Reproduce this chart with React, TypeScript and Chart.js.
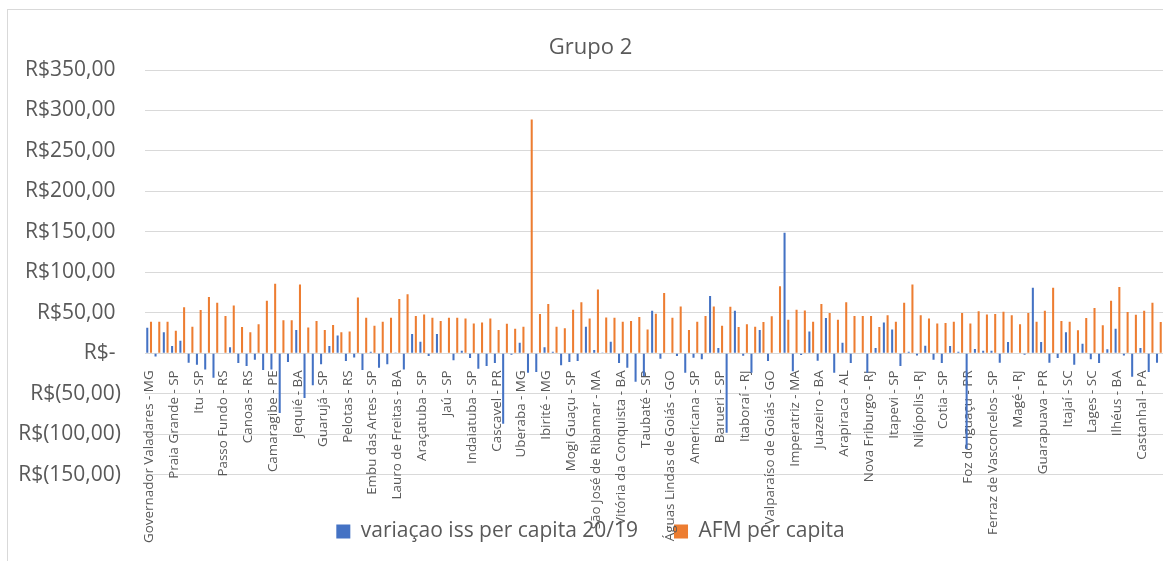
import React, { useEffect, useRef } from "react";
import { Chart, registerables } from "chart.js";

Chart.register(...registerables);

// Cities whose names are printed on the axis (every third category)
const shownCities = [
  "Governador Valadares - MG", "Praia Grande - SP", "Itu - SP", "Passo Fundo - RS", "Canoas - RS",
  "Camaragibe - PE", "Jequié - BA", "Guarujá - SP", "Pelotas - RS", "Embu das Artes - SP",
  "Lauro de Freitas - BA", "Araçatuba - SP", "Jaú - SP", "Indaiatuba - SP", "Cascavel - PR",
  "Uberaba - MG", "Ibirité - MG", "Mogi Guaçu - SP", "São José de Ribamar - MA", "Vitória da Conquista - BA",
  "Taubaté - SP", "Águas Lindas de Goiás - GO", "Americana - SP", "Barueri - SP", "Itaboraí - RJ",
  "Valparaíso de Goiás - GO", "Imperatriz - MA", "Juazeiro - BA", "Arapiraca - AL", "Nova Friburgo - RJ",
  "Itapevi - SP", "Nilópolis - RJ", "Cotia - SP", "Foz do Iguaçu - PR", "Ferraz de Vasconcelos - SP",
  "Magé - RJ", "Guarapuava - PR", "Itajaí - SC", "Lages - SC", "Ilhéus - BA", "Castanhal - PA",
];

// variaçao iss per capita 20/19
const issPerCapita = [
  31.7, -4, 26, 9, 15.6, -11.5, -14, -20, -30, 0,
  7.4, -12, -15.6, -8, -20.6, -20, -73.7, -10.7, 29, -55,
  -39.5, -13.6, 9, 22, -9.5, -5, -20.6, 2, -17.7, -13.6,
  1, -20, 24, 14.4, -3.3, 24, 0, -8.6, 3.3, -5.8,
  -19, -15.6, -12, -87, -1.6, 13, -24, -23, 7.4, 2,
  -14.8, -10.7, -9.5, 33, 4, 1, 14.4, -12, -17.7, -35,
  -28, 52.7, -6.6, 0, -3.3, -24, -5.3, -7.4, 71, 6.6,
  -98, 52.7, -3, -24, 29, -9.5, 0.8, 149, -22, -2,
  27, -9, 43.6, -24, 13, -12, 0, -24, 6.6, 38,
  29.6, -15.6, 2, -2.5, 9.5, -8, -12, 9, 2, -118,
  5.3, 3.3, 3.3, -11.5, 14, 0.8, -1.6, 81, 14, -11.5,
  -5.8, 26, -14, 12, -7.4, -12, 5, 30.5, -2.5, -29,
  6.6, -23, -11.5,
];

// AFM per capita
const afmPerCapita = [
  39, 39, 39, 28, 57, 33, 53.5, 69.5, 62.5, 46,
  59, 32.5, 26, 36, 65, 86, 41, 41, 85, 32,
  40, 29, 35, 26, 27, 69, 44, 34, 39, 44,
  67, 73, 46, 48, 44, 40, 44, 44, 43, 37,
  38, 43, 29, 36.6, 30.5, 33, 289, 48.6, 61, 33,
  31, 54, 63, 43, 79, 44.4, 44, 39, 40, 45,
  29.6, 49, 74.5, 44, 58, 29, 39, 46, 58, 34,
  57.6, 32.5, 36, 33, 38.7, 45.7, 83, 41.6, 54, 53,
  39, 61, 50, 41.6, 63, 46, 46, 46, 32.5, 47,
  39, 62.5, 85, 47, 43, 37, 37.4, 39, 50, 37,
  52, 48, 48.6, 51.4, 47, 36, 50, 39, 52.7, 81,
  40, 39, 28.4, 43.6, 56, 34.6, 65, 82, 51, 47.7,
  52.7, 62.5, 38.7,
];

const yMin = -150;
const yMax = 350;
const yStep = 50;

const seriesNames = ["variaçao iss per capita 20/19", "AFM per capita"];
const chartTitle = "Grupo 2";

const categories = issPerCapita.map((_, i) => (i % 3 === 0 ? shownCities[i / 3] : ""));

const FONT = "'Open Sans', 'Noto Sans', sans-serif";
const TEXT = "#595959";
const GRID = "#d9d9d9";

function formatBRL(v: number): string {
  if (v === 0) return "R$- ";
  const s = Math.abs(v).toFixed(2).replace(".", ",");
  return v < 0 ? `R$(${s})` : `R$${s} `;
}

export default function App() {
  const ref = useRef<HTMLCanvasElement | null>(null);

  useEffect(() => {
    if (!ref.current) return;
    const chart = new Chart(ref.current, {
      type: "bar",
      data: {
        labels: categories,
        datasets: [
          {
            label: seriesNames[0],
            data: issPerCapita,
            backgroundColor: "#4472C4",
            borderWidth: 0,
            categoryPercentage: 0.9,
            barPercentage: 0.55,
          },
          {
            label: seriesNames[1],
            data: afmPerCapita,
            backgroundColor: "#ED7D31",
            borderWidth: 0,
            categoryPercentage: 0.9,
            barPercentage: 0.55,
          },
        ],
      },
      options: {
        animation: false,
        responsive: false,
        devicePixelRatio: 1,
        layout: { padding: { left: 10, right: 10, top: 0, bottom: 10 } },
        plugins: {
          title: {
            display: true,
            text: chartTitle,
            color: TEXT,
            font: { family: FONT, size: 22, weight: "normal" },
            padding: { top: 25, bottom: 8.6 },
          },
          legend: {
            position: "bottom",
            labels: {
              boxWidth: 14,
              boxHeight: 14,
              padding: 36,
              color: TEXT,
              font: { family: FONT, size: 21 },
            },
            title: { display: true, text: "", padding: { top: 9, bottom: 0 }, font: { size: 1 } },
          },
          tooltip: { enabled: false },
        },
        scales: {
          x: {
            position: { y: 0 },
            grid: { display: false },
            border: { display: true, color: GRID },
            ticks: {
              autoSkip: false,
              maxRotation: 90,
              minRotation: 90,
              padding: 9,
              color: TEXT,
              font: { family: FONT, size: 13.4 },
              callback: (_v: any, i: number) => (categories[i] ? categories[i] : null),
            },
          },
          y: {
            min: yMin,
            max: yMax,
            ticks: {
              stepSize: yStep,
              padding: 24,
              color: TEXT,
              font: { family: FONT, size: 21 },
              callback: (v: any) => formatBRL(Number(v)),
            },
            grid: { color: GRID, drawTicks: false, lineWidth: 1 },
            border: { display: false },
            afterFit: (scale: any) => {
              scale.width = 127;
            },
          },
        },
      },
    } as any);
    return () => chart.destroy();
  }, []);

  return (
    <div
      style={{
        position: "fixed",
        left: 0,
        top: 0,
        width: 1163,
        height: 561,
        overflow: "hidden",
        background: "#ffffff",
      }}
    >
      <div
        style={{
          position: "absolute",
          left: 7,
          top: 9,
          width: 1166,
          height: 600,
          borderLeft: `1px solid ${GRID}`,
          borderTop: `1px solid ${GRID}`,
          background: "#ffffff",
        }}
      >
        <canvas ref={ref} width={1165} height={552} style={{ display: "block", width: 1165, height: 552 }} />
      </div>
    </div>
  );
}
